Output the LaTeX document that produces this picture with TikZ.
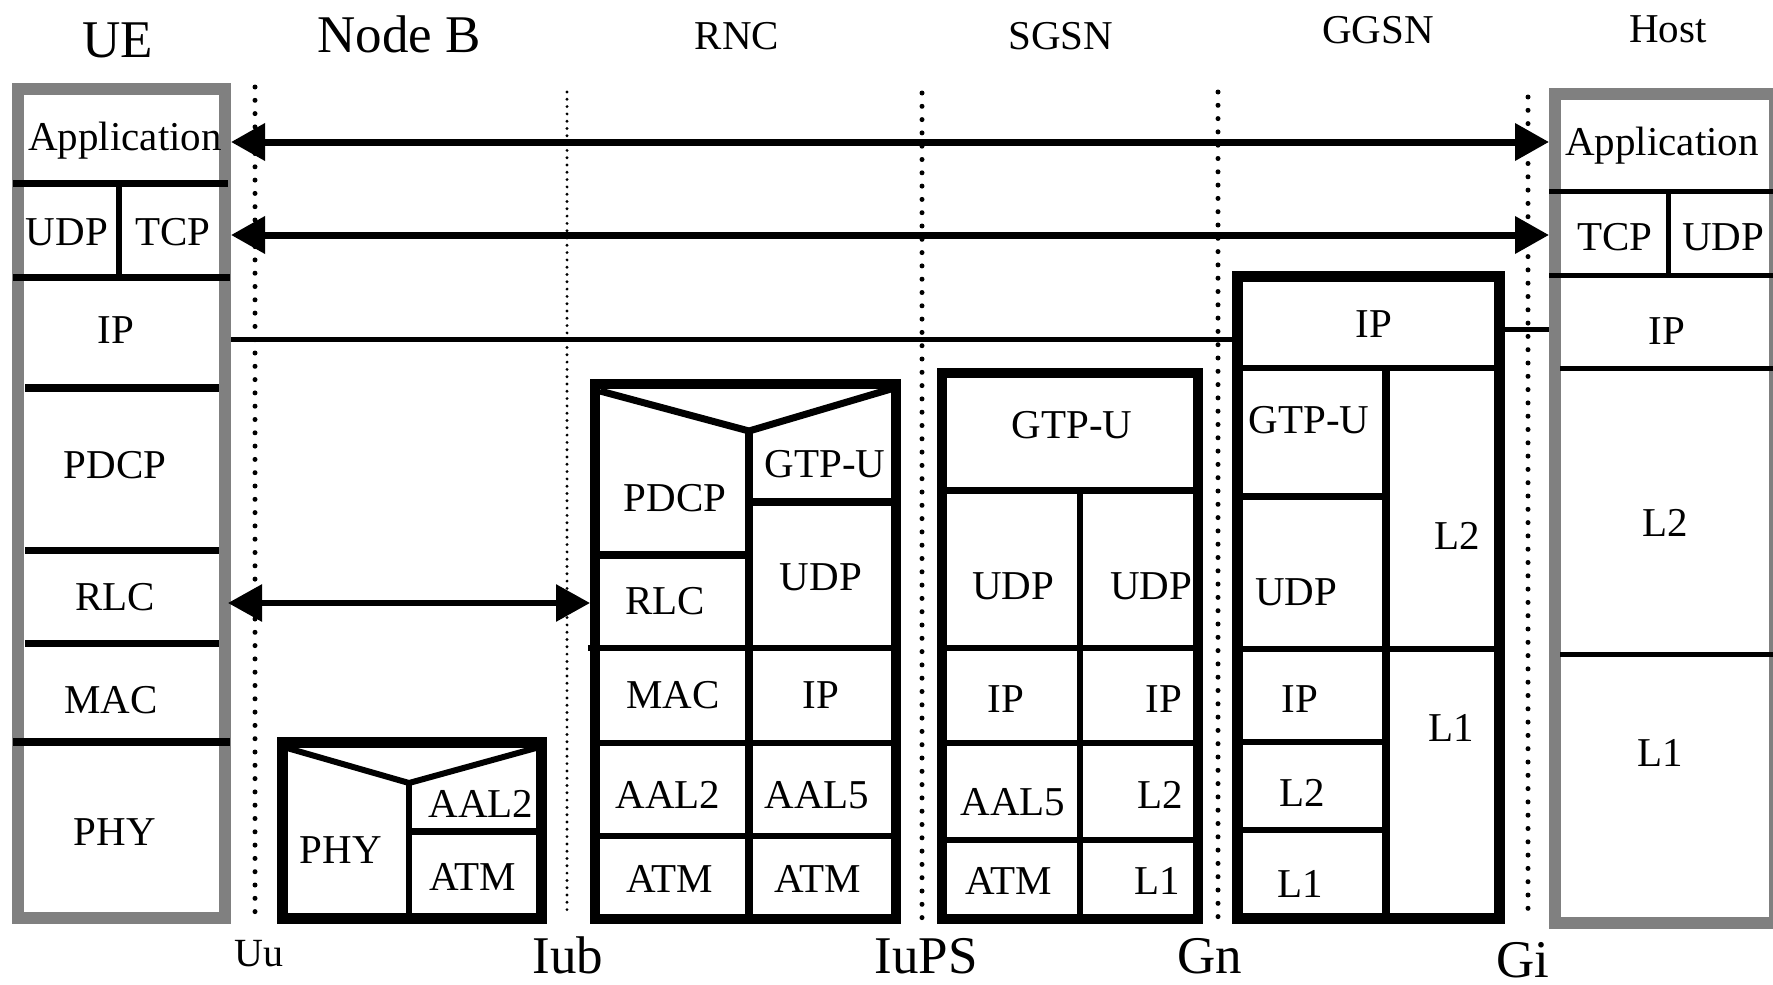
\documentclass[tikz,border=0pt]{standalone}
\usepackage{fontspec}
\setmainfont{Liberation Serif}
\usetikzlibrary{arrows.meta}
\definecolor{framegray}{RGB}{128,128,128}
\tikzset{
  lbl/.style={font=\fontsize{41}{41}\selectfont, anchor=base, inner sep=0pt},
  big/.style={font=\fontsize{53}{53}\selectfont, anchor=base, inner sep=0pt},
  small/.style={font=\fontsize{40}{40}\selectfont, anchor=base, inner sep=0pt},
  grayframe/.style={draw=framegray, line width=12pt},
  blackframe/.style={draw=black, line width=11pt},
  sep/.style={line width=6pt},
  thicksep/.style={line width=8pt},
  dotline/.style={line width=5pt, line cap=round, dash pattern=on 0pt off 13.3pt},
  finedot/.style={line width=3.2pt, line cap=round, dash pattern=on 0pt off 7.3pt},
  arr/.style={line width=7pt, {Triangle[length=34pt,width=36pt]}-{Triangle[length=34pt,width=36pt]}},
  plainline/.style={line width=5pt}
}
\begin{document}
\begin{tikzpicture}[x=1pt,y=-1pt]
\useasboundingbox (0,0) rectangle (1773,985);
\clip (0,0) rectangle (1773,985);
\fill[white] (0,0) rectangle (1773,985);

% titles
\node[big] (tUE) at (118,57) {UE};
\node[big] (tNB) at (399,52) {Node B};
\node[lbl] (tRNC) at (737,49) {RNC};
\node[lbl] (tSGSN) at (1061,49) {SGSN};
\node[lbl] (tGGSN) at (1378,43) {GGSN};
\node[lbl] (tHost) at (1668,42) {Host};

% interface dotted lines
\draw[dotline] (255,87) -- (255,912);
\draw[finedot] (567,92) -- (567,913);
\draw[dotline] (922,93) -- (922,918);
\draw[dotline] (1218,92) -- (1218,918);
\draw[dotline] (1528,97) -- (1528,918);

% interface labels
\node[small] (iUu) at (259,966) {Uu};
\node[big, text depth=0pt] (iIub) at (568,973) {Iub};
\node[big, text depth=0pt] (iIuPS) at (926,973) {IuPS};
\node[big, text depth=0pt] (iGn) at (1210,973) {Gn};
\node[big, text depth=0pt] (iGi) at (1523,977) {Gi};

% ---------------- UE ----------------
\draw[grayframe] (18,88.5) rectangle (225,918);
\draw[line width=7pt] (13,183) -- (228,183);
\draw[line width=7pt] (13,277) -- (230,277);
\draw[line width=6pt] (119,183) -- (119,277);
\draw[line width=8pt] (25,388) -- (219,388);
\draw[line width=7pt] (25,550) -- (219,550);
\draw[line width=7pt] (25,643) -- (219,643);
\draw[line width=8pt] (13,742) -- (230,742);
\node[lbl] (ueApp) at (125,150) {Application};
\node[lbl] (ueUDP) at (67,245) {UDP};
\node[lbl] (ueTCP) at (173,245) {TCP};
\node[lbl] (ueIP) at (116,343) {IP};
\node[lbl] (uePDCP) at (115,478) {PDCP};
\node[lbl] (ueRLC) at (115,610) {RLC};
\node[lbl] (ueMAC) at (111,713) {MAC};
\node[lbl] (uePHY) at (115,845) {PHY};

% ---------------- Node B ----------------
\draw[blackframe] (282,742) rectangle (541,918);
\draw[sep, line join=miter] (287,748) -- (409,783) -- (536,748);
\draw[sep] (409,783) -- (409,918);
\draw[line width=7pt] (409,831) -- (541,831);
\node[lbl] (nbPHY) at (341,863) {PHY};
\node[lbl] (nbAAL2) at (481,817) {AAL2};
\node[lbl] (nbATM) at (473,890) {ATM};

% ---------------- RNC ----------------
\draw[line width=10pt] (595,384) rectangle (896,919);
\draw[line width=7pt, line join=miter] (600,391) -- (749,431) -- (891,389);
\draw[thicksep] (749,431) -- (749,919);
\draw[thicksep] (590,555) -- (749,555);
\draw[thicksep] (749,502) -- (891,502);
\draw[sep] (588,648) -- (900,648);
\draw[sep] (590,743) -- (900,743);
\draw[sep] (590,836) -- (900,836);
\node[lbl] (rPDCP) at (675,511) {PDCP};
\node[lbl] (rGTP) at (825,477) {GTP-U};
\node[lbl] (rUDP) at (821,590) {UDP};
\node[lbl] (rRLC) at (665,614) {RLC};
\node[lbl] (rMAC) at (673,708) {MAC};
\node[lbl] (rIP) at (821,708) {IP};
\node[lbl] (rAAL2) at (668,808) {AAL2};
\node[lbl] (rAAL5) at (817,808) {AAL5};
\node[lbl] (rATM1) at (670,892) {ATM};
\node[lbl] (rATM2) at (818,892) {ATM};

% ---------------- SGSN ----------------
\draw[line width=10pt] (942,373) rectangle (1198,919);
\draw[line width=7pt] (947,490) -- (1193,490);
\draw[sep] (1080,490) -- (1080,919);
\draw[sep] (947,648) -- (1193,648);
\draw[sep] (947,743) -- (1193,743);
\draw[sep] (947,840) -- (1193,840);
\node[lbl] (sGTP) at (1072,438) {GTP-U};
\node[lbl] (sUDP1) at (1013,599) {UDP};
\node[lbl] (sUDP2) at (1151,599) {UDP};
\node[lbl] (sIP1) at (1006,712) {IP};
\node[lbl] (sIP2) at (1164,712) {IP};
\node[lbl] (sAAL5) at (1013,815) {AAL5};
\node[lbl] (sL2) at (1160,808) {L2};
\node[lbl] (sATM) at (1009,894) {ATM};
\node[lbl] (sL1) at (1157,894) {L1};

% ---------------- GGSN ----------------
\draw[blackframe] (1237,276) rectangle (1499,918);
\draw[sep] (1242,368) -- (1494,368);
\draw[thicksep] (1386,368) -- (1386,918);
\draw[line width=7pt] (1242,496) -- (1386,496);
\draw[sep] (1242,649) -- (1494,649);
\draw[sep] (1242,742) -- (1386,742);
\draw[sep] (1242,830) -- (1386,830);
\node[lbl] (gIP) at (1374,337) {IP};
\node[lbl] (gGTP) at (1309,433) {GTP-U};
\node[lbl] (gUDP) at (1296,605) {UDP};
\node[lbl] (gL2r) at (1457,549) {L2};
\node[lbl] (gIP2) at (1300,712) {IP};
\node[lbl] (gL1r) at (1451,741) {L1};
\node[lbl] (gL2) at (1302,806) {L2};
\node[lbl] (gL1) at (1300,897) {L1};

% ---------------- Host ----------------
\draw[grayframe] (1555,94) rectangle (1775,923);
\draw[plainline] (1549,191) -- (1773,191);
\draw[plainline] (1668,191) -- (1668,275);
\draw[plainline] (1549,275) -- (1773,275);
\draw[plainline] (1560,368) -- (1773,368);
\draw[plainline] (1560,654) -- (1773,654);
\node[lbl] (hApp) at (1662,155) {Application};
\node[lbl] (hTCP) at (1615,250) {TCP};
\node[lbl] (hUDP) at (1723,250) {UDP};
\node[lbl] (hIP) at (1667,344) {IP};
\node[lbl] (hL2) at (1665,536) {L2};
\node[lbl] (hL1) at (1660,766) {L1};

% ---------------- connectors ----------------
\coordinate (ueAppEnd) at (231,142);
\coordinate (hAppEnd) at (1549,142);
\coordinate (ueTCPEnd) at (231,235);
\coordinate (hTCPEnd) at (1549,235);
\coordinate (ueIPEnd) at (231,339);
\coordinate (gIPIn) at (1232,339);
\coordinate (gIPOut) at (1504,329);
\coordinate (hIPEnd) at (1549,329);
\coordinate (ueRLCEnd) at (228,603);
\coordinate (rRLCEnd) at (590,603);

\draw[arr] (ueAppEnd) -- (hAppEnd);
\draw[arr] (ueTCPEnd) -- (hTCPEnd);
\draw[plainline] (ueIPEnd) -- (gIPIn);
\draw[plainline] (gIPOut) -- (hIPEnd);
\draw[line width=6pt, {Triangle[length=34pt,width=36pt]}-{Triangle[length=34pt,width=36pt]}] (ueRLCEnd) -- (rRLCEnd);
\end{tikzpicture}
\end{document}
